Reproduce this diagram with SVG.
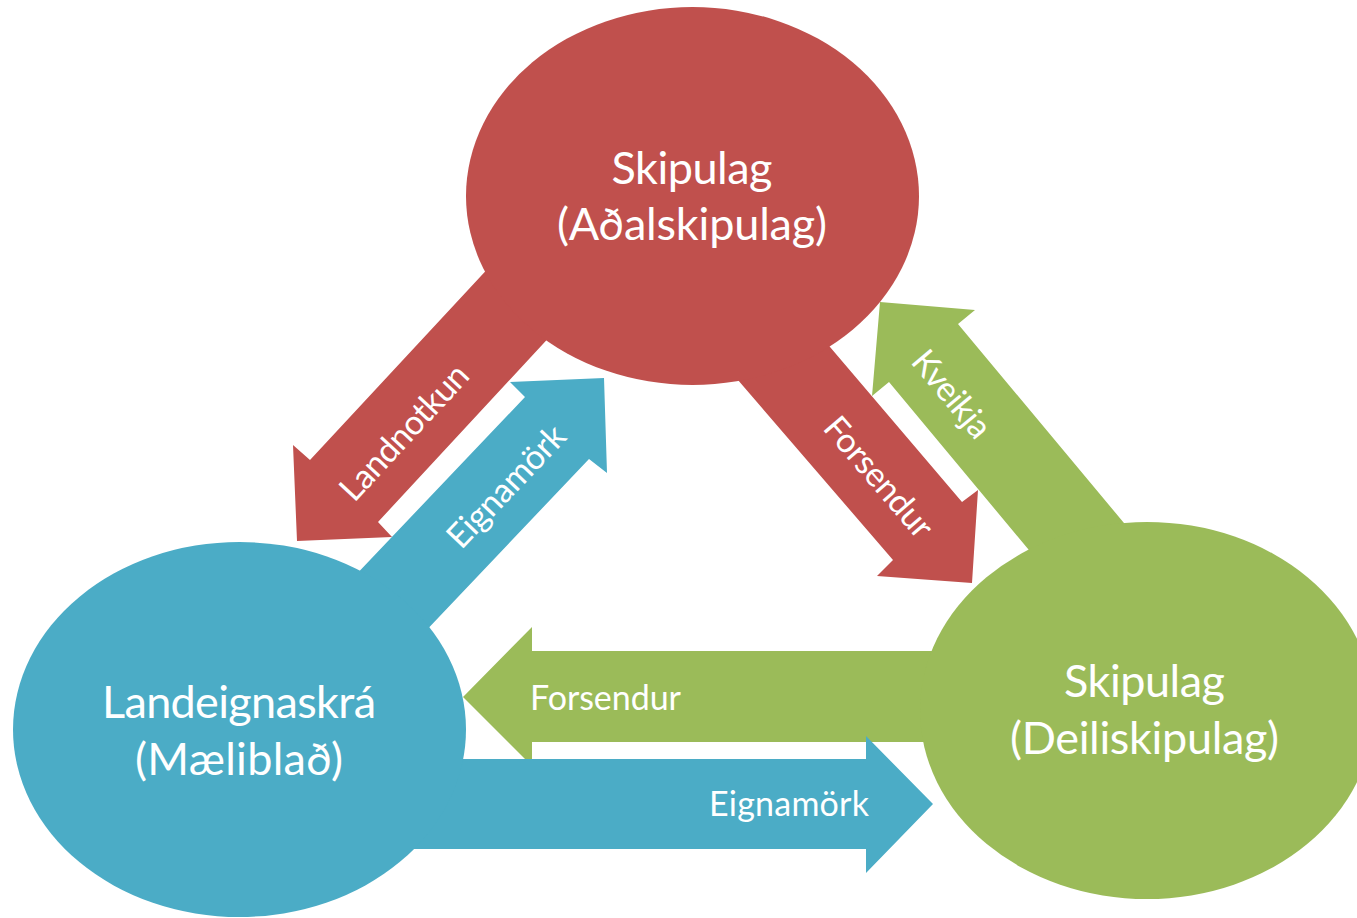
<svg xmlns="http://www.w3.org/2000/svg" width="1357" height="918" viewBox="0 0 1357 918">
<style>
.red{fill:#C0504D}
.blue{fill:#4BACC6}
.green{fill:#9BBB59}
.node{font-family:Lato,"Open Sans","Liberation Sans",sans-serif;font-size:45px;fill:#FFFFFF;text-anchor:middle}
.lbl{font-family:Lato,"Open Sans","Liberation Sans",sans-serif;font-size:34px;fill:#FFFFFF;text-anchor:middle}
</style>
<rect width="1357" height="918" fill="#FFFFFF"/>
<g id="connectors">
  <g id="arrow-landnotkun">
    <polygon class="red" points="520,234 310,460 293,445 297,541 392,537 378,522 580,304"/>
    <text class="lbl" transform="translate(404,432) rotate(-47.2)" x="0" y="12" textLength="172" lengthAdjust="spacing">Landnotkun</text>
  </g>
  <g id="arrow-eignamork-diag">
    <polygon class="blue" points="312,621 525,397 510,382 604,378 607,473 589,459 382,677"/>
    <text class="lbl" transform="translate(506,486) rotate(-46.4)" x="0" y="12" textLength="155" lengthAdjust="spacing">Eignamörk</text>
  </g>
  <g id="arrow-forsendur-diag">
    <polygon class="red" points="790,300 962,502 978,490 972,583 877,576 893,560 694,329"/>
    <text class="lbl" transform="translate(879,477) rotate(49.3)" x="0" y="12" textLength="148" lengthAdjust="spacing">Forsendur</text>
  </g>
  <g id="arrow-kveikja">
    <polygon class="green" points="1149,553 958,324 975,310 880,302 872,396 889,382 1053,579"/>
    <text class="lbl" transform="translate(952,394) rotate(50.2)" x="0" y="12" textLength="103" lengthAdjust="spacing">Kveikja</text>
  </g>
  <g id="arrow-forsendur-horiz">
    <polygon class="green" points="1000,651 532,651 532,627 463,697 532,766 532,742 1000,742"/>
    <text class="lbl" x="605.5" y="710" textLength="151" lengthAdjust="spacing">Forsendur</text>
  </g>
  <g id="arrow-eignamork-horiz">
    <polygon class="blue" points="400,759 866,759 866,736 933,804 866,873 866,849 400,849"/>
    <text class="lbl" x="789" y="816" textLength="160" lengthAdjust="spacing">Eignamörk</text>
  </g>
</g>
<g id="node-adalskipulag">
  <ellipse class="red" cx="692.5" cy="196" rx="226.5" ry="189"/>
  <text class="node" x="692" y="184" textLength="161" lengthAdjust="spacing">Skipulag</text>
  <text class="node" x="692" y="240" textLength="270" lengthAdjust="spacing">(Aðalskipulag)</text>
</g>
<g id="node-landeignaskra">
  <ellipse class="blue" cx="239.5" cy="729.5" rx="226.5" ry="187.5"/>
  <text class="node" x="239" y="718" textLength="274" lengthAdjust="spacing">Landeignaskrá</text>
  <text class="node" x="239" y="775" textLength="208" lengthAdjust="spacing">(Mæliblað)</text>
</g>
<g id="node-deiliskipulag">
  <ellipse class="green" cx="1147" cy="710.5" rx="227" ry="188.5"/>
  <text class="node" x="1144.5" y="697" textLength="161" lengthAdjust="spacing">Skipulag</text>
  <text class="node" x="1144.5" y="754" textLength="269" lengthAdjust="spacing">(Deiliskipulag)</text>
</g>
</svg>
